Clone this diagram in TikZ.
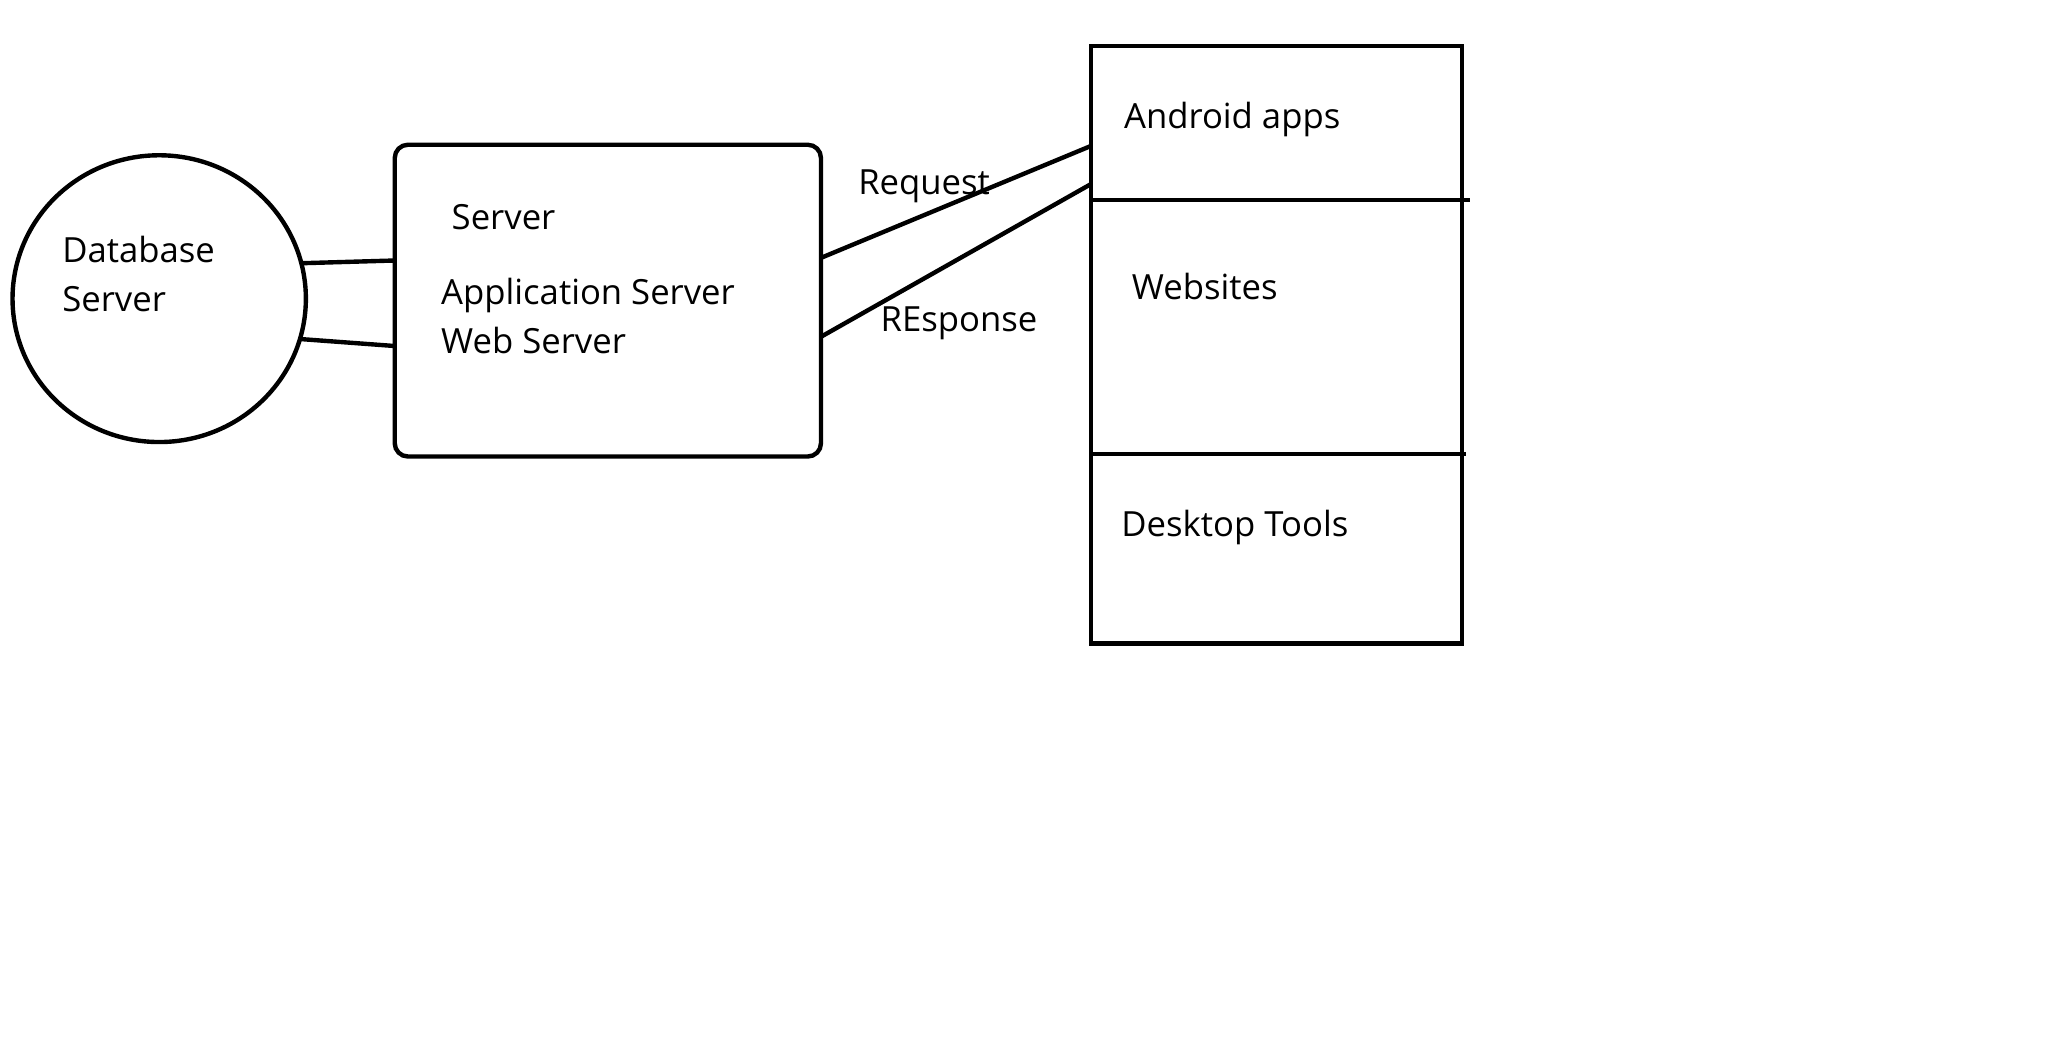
\documentclass[tikz,border=0pt]{standalone}
\usepackage{fontspec}
\setmainfont{Open Sans}
\usetikzlibrary{shapes.geometric}
\begin{document}
\begin{tikzpicture}[x=0.02cm,y=-0.02cm,
  shapeline/.style={draw=black,line width=1.9pt,inner sep=0pt,outer sep=0pt},
  wire/.style={draw=black,line width=1.9pt},
  lbl/.style={anchor=mid west,inner sep=0pt,font=\fontsize{15}{18}\selectfont}]
\useasboundingbox (0,0) rectangle (1568,789.7);
\fill[white] (0,0) rectangle (1568,789.7);
% shapes
\node[shapeline,ellipse,minimum width=4.46cm,minimum height=4.36cm] (db) at (121,227) {};
\node[shapeline,rectangle,rounded corners=0.2cm,minimum width=6.48cm,minimum height=4.74cm] (srv) at (462,228.5) {};
\node[shapeline,rectangle,minimum width=5.64cm,minimum height=9.08cm] (cli) at (970,262) {};
% dividers
\coordinate (d1) at (1117,152);
\coordinate (d2) at (1114,345);
\draw[wire] (cli.west |- d1) -- (d1);
\draw[wire] (cli.west |- d2) -- (d2);
% connectors
\draw[wire] (db.14) -- (srv.west |- 0,198);
\draw[wire] (db.-16) -- (srv.west |- 0,263);
\draw[wire] (srv.east |- 0,196) -- (cli.west |- 0,111);
\draw[wire] (srv.east |- 0,256) -- (cli.west |- 0,140);
% labels
\node[lbl] (tdb1) at (47,195) {Database};
\node[lbl] (tdb2) at (47,232) {Server};
\node[lbl] (tsrv) at (343,170) {Server};
\node[lbl] (tapp) at (335,227) {Application Server};
\node[lbl] (tweb) at (335,264) {Web Server};
\node[lbl] (treq) at (652,143) {Request};
\node[lbl] (tres) at (669,247) {REsponse};
\node[lbl] (tand) at (854,93) {Android apps};
\node[lbl] (tweb2) at (860,223) {Websites};
\node[lbl] (tdesk) at (852,403) {Desktop Tools};
\end{tikzpicture}
\end{document}
